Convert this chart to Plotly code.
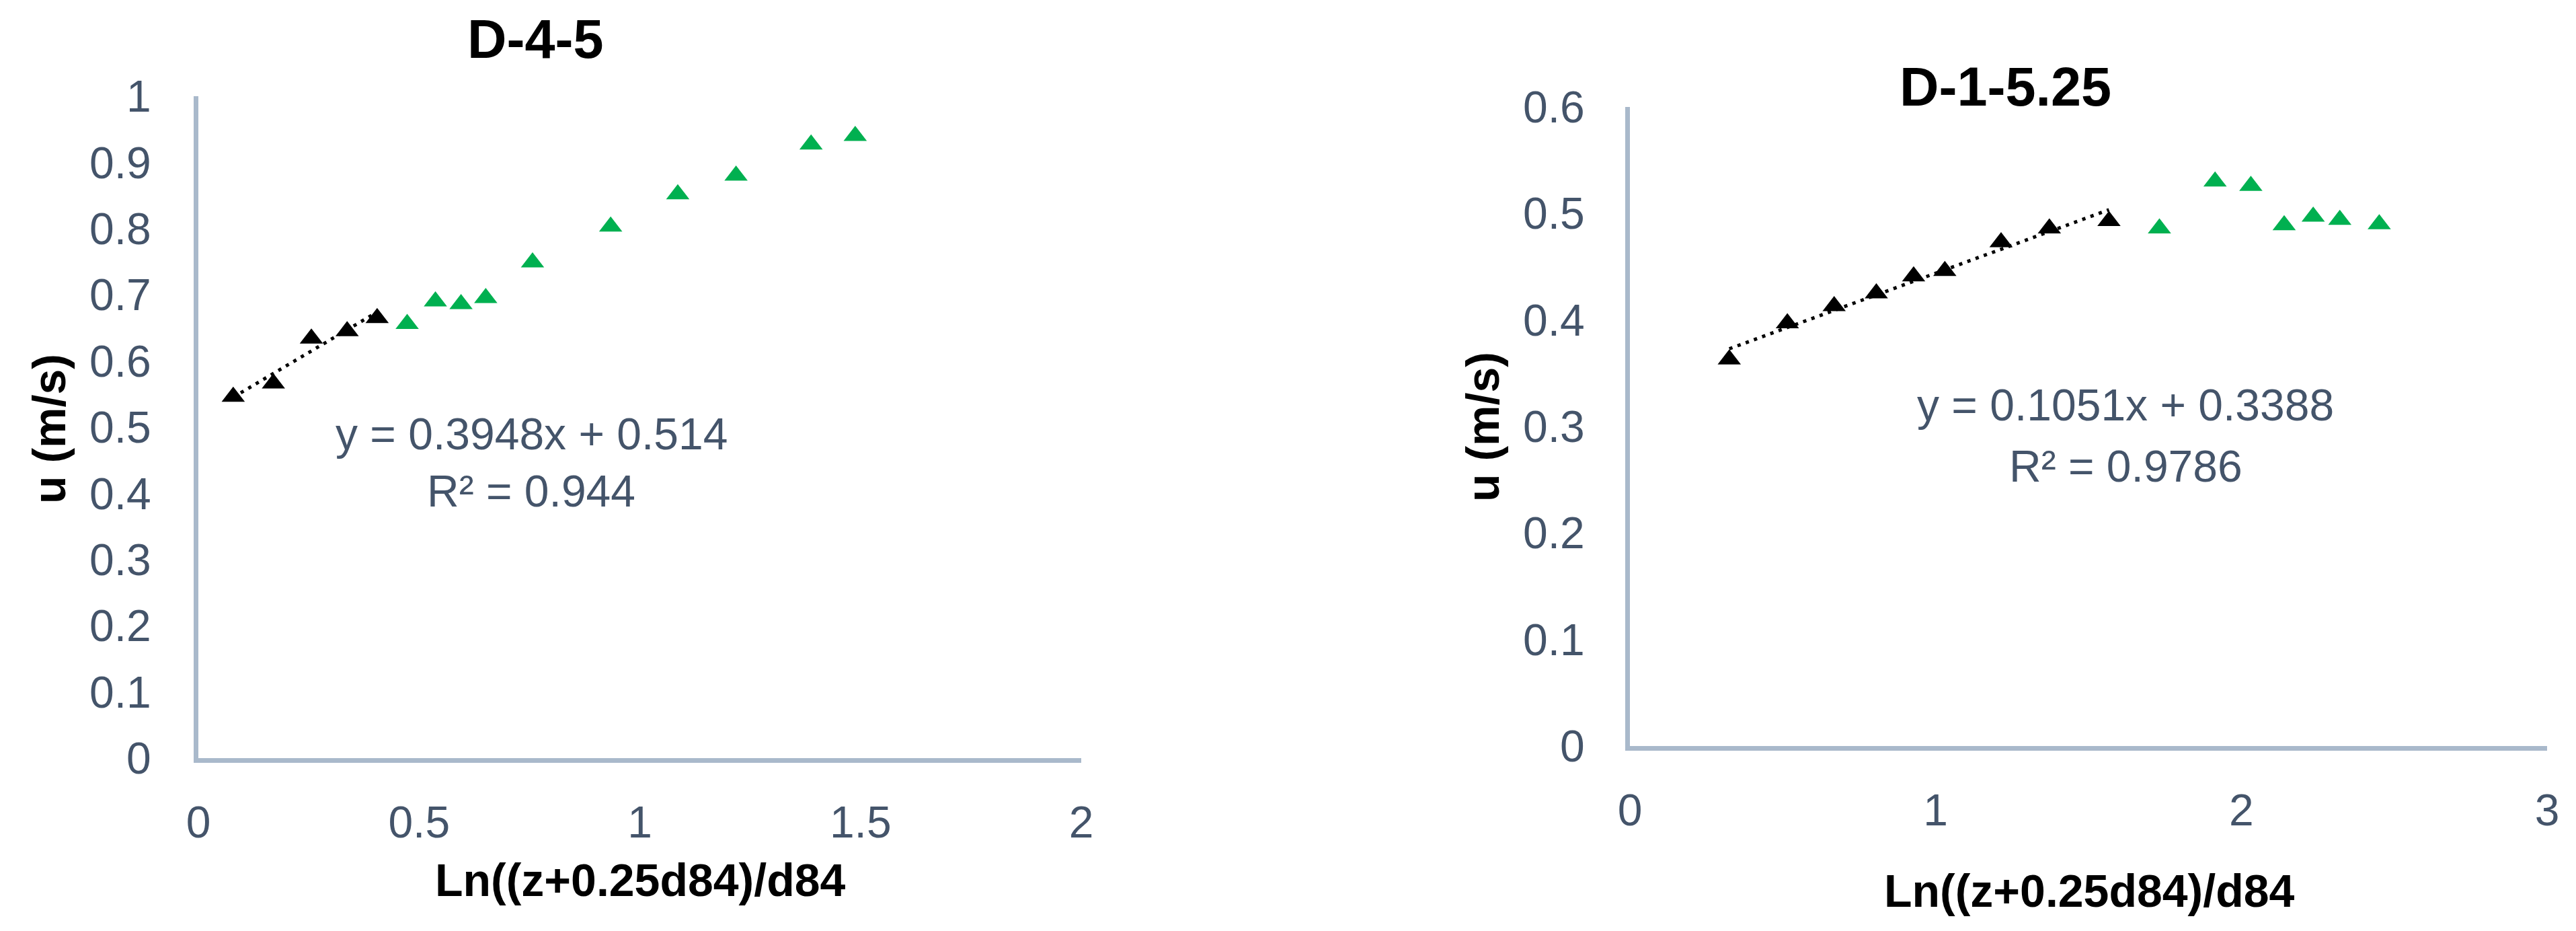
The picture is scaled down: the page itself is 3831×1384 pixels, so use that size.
import plotly.graph_objects as go

W, H = 3831, 1384

# ---------------- data ----------------
# Chart 1: D-4-5
d45_black_x = [0.079, 0.170, 0.256, 0.337, 0.405]
d45_black_u = [0.546, 0.566, 0.634, 0.645, 0.665]
d45_green_x = [0.473, 0.537, 0.595, 0.651, 0.757, 0.934, 1.086, 1.218, 1.388, 1.488]
d45_green_u = [0.656, 0.690, 0.686, 0.695, 0.749, 0.803, 0.852, 0.880, 0.927, 0.940]
d45_slope, d45_intercept, d45_r2 = 0.3948, 0.514, "0.944"

# Chart 2: D-1-5.25
d1_black_x = [0.325, 0.515, 0.668, 0.806, 0.928, 1.030, 1.214, 1.372, 1.567]
d1_black_u = [0.363, 0.397, 0.413, 0.425, 0.441, 0.446, 0.473, 0.486, 0.493]
d1_green_x = [1.732, 1.914, 2.031, 2.140, 2.235, 2.322, 2.451]
d1_green_u = [0.486, 0.530, 0.526, 0.489, 0.497, 0.494, 0.490]
d1_slope, d1_intercept, d1_r2 = 0.1051, 0.3388, "0.9786"

titles = ["D-4-5", "D-1-5.25"]
x_title = "Ln((z+0.25d84)/d84"
y_title = "u (m/s)"

# ---------------- style ----------------
FONT = "Liberation Sans, Arial, sans-serif"
TICK_COLOR = "#44546A"
AXIS_COLOR = "#A9B9CB"
GREEN = "#00B050"
BLACK = "#000000"
MSIZE = 30

def px_x(p):
    return p / W

def px_y(p):
    return 1 - p / H

fig = go.Figure()

def add_panel(bx, bu, gx, gu, slope, intercept, xa, ya):
    x0, x1 = min(bx), max(bx)
    fig.add_trace(go.Scatter(
        x=[x0, x1], y=[slope * x0 + intercept, slope * x1 + intercept],
        mode="lines", line=dict(color=BLACK, width=5, dash="5px,8px"),
        xaxis=xa, yaxis=ya, showlegend=False, hoverinfo="skip"))
    fig.add_trace(go.Scatter(
        x=bx, y=bu, mode="markers",
        marker=dict(symbol="triangle-up", size=MSIZE, color=BLACK),
        xaxis=xa, yaxis=ya, showlegend=False))
    fig.add_trace(go.Scatter(
        x=gx, y=gu, mode="markers",
        marker=dict(symbol="triangle-up", size=MSIZE, color=GREEN),
        xaxis=xa, yaxis=ya, showlegend=False))

add_panel(d45_black_x, d45_black_u, d45_green_x, d45_green_u, d45_slope, d45_intercept, "x", "y")
add_panel(d1_black_x, d1_black_u, d1_green_x, d1_green_u, d1_slope, d1_intercept, "x2", "y2")

axis_common = dict(
    showline=True, linecolor=AXIS_COLOR, linewidth=7,
    showgrid=False, zeroline=False, ticks="", automargin=False,
    tickfont=dict(family=FONT, size=66, color=TICK_COLOR),
    fixedrange=True,
)

fig.update_layout(
    width=W, height=H,
    margin=dict(l=0, r=0, t=0, b=0, autoexpand=False),
    paper_bgcolor="white", plot_bgcolor="white",
    showlegend=False,
    xaxis=dict(domain=[px_x(295), px_x(1608)], range=[0, 2], dtick=0.5, tick0=0,
               anchor="y", ticklabelstandoff=32, **axis_common),
    yaxis=dict(domain=[px_y(1127), px_y(143)], range=[0, 1], dtick=0.1, tick0=0,
               anchor="x", ticklabelstandoff=50, **axis_common),
    xaxis2=dict(domain=[px_x(2424), px_x(3788)], range=[0, 3], dtick=1, tick0=0,
                anchor="y2", ticklabelstandoff=32, **axis_common),
    yaxis2=dict(domain=[px_y(1109), px_y(159)], range=[0, 0.6], dtick=0.1, tick0=0,
                anchor="x2", ticklabelstandoff=47, **axis_common),
)

def ann(text, x, y, size, bold=False, color=BLACK, angle=0):
    fig.add_annotation(
        text=f"<b>{text}</b>" if bold else text,
        x=px_x(x), y=px_y(y), xref="paper", yref="paper",
        xanchor="center", yanchor="middle", showarrow=False, textangle=angle,
        font=dict(family=FONT, size=size, color=color))

# titles
ann(titles[0], 796, 58, 81, bold=True)
ann(titles[1], 2982, 129, 81, bold=True)
# axis titles
ann(x_title, 952, 1308, 68, bold=True)
ann(x_title, 3107, 1324, 68, bold=True)
ann(y_title, 73, 638, 68, bold=True, angle=-90)
ann(y_title, 2205, 635, 68, bold=True, angle=-90)
# trendline equations
ann(f"y = {d45_slope}x + {d45_intercept}", 790, 645, 66, color=TICK_COLOR)
ann(f"R\u00b2 = {d45_r2}", 790, 730, 66, color=TICK_COLOR)
ann(f"y = {d1_slope}x + {d1_intercept}", 3161, 602, 66, color=TICK_COLOR)
ann(f"R\u00b2 = {d1_r2}", 3161, 693, 66, color=TICK_COLOR)

fig.write_html(
    "out.html",
    config={"displayModeBar": False},
    post_script=(
        "document.documentElement.style.margin='0';"
        "document.body.style.margin='0';"
        "document.body.style.padding='0';"
        "document.documentElement.style.overflow='hidden';"
        "document.body.style.overflow='hidden';"
    ),
)
